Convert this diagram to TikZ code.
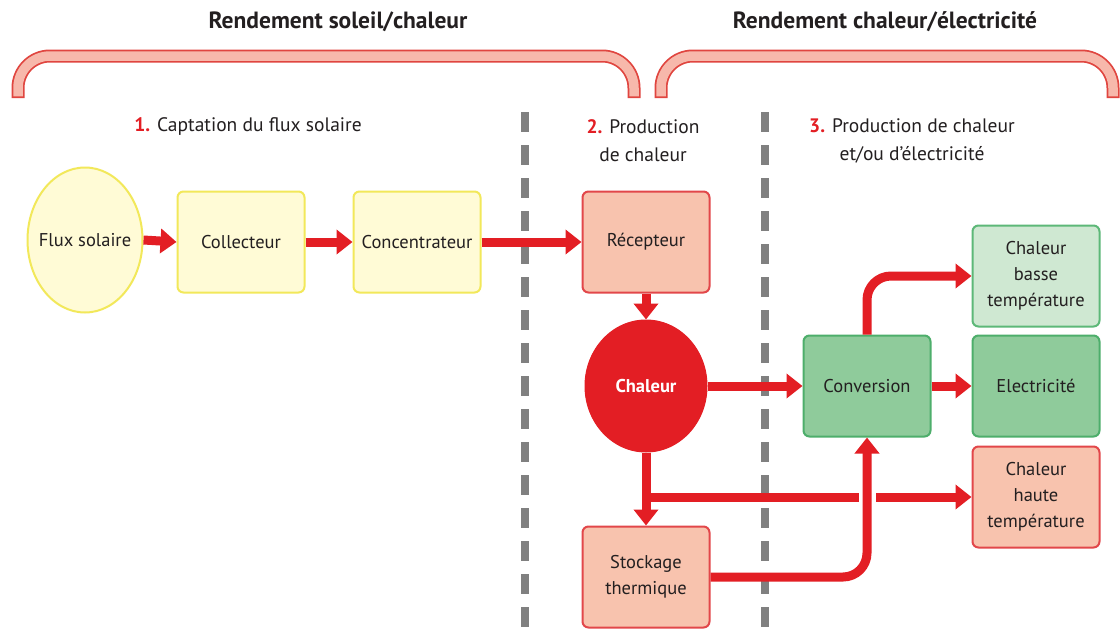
\documentclass[tikz,border=0pt]{standalone}
\usepackage{fontspec}
\setmainfont{PT Sans}
\usetikzlibrary{arrows.meta,shapes.geometric,calc}
\definecolor{arrred}{HTML}{E31E24}
\definecolor{bracered}{HTML}{E0453F}
\definecolor{bracepink}{HTML}{F7B8AB}
\definecolor{sepgray}{HTML}{808080}
\definecolor{txt}{HTML}{231F20}
\definecolor{numred}{HTML}{E31E24}
\definecolor{yfill}{HTML}{FFFBD6}
\definecolor{ydraw}{HTML}{F2E85A}
\definecolor{sfill}{HTML}{F8C3AE}
\definecolor{sdraw}{HTML}{E2474A}
\definecolor{gfill}{HTML}{8FCB9B}
\definecolor{gdraw}{HTML}{4DAE6B}
\definecolor{lgfill}{HTML}{CFE8D2}
\definecolor{lgdraw}{HTML}{5DB878}
\begin{document}
\begin{tikzpicture}[x=1pt,y=-1pt,
  every node/.style={text=txt,font=\fontsize{18.5}{26}\selectfont},
  box/.style={rectangle,rounded corners=6pt,line width=2pt,minimum width=127pt,minimum height=101pt,align=center,inner sep=2pt},
  ybox/.style={box,fill=yfill,draw=ydraw},
  sbox/.style={box,fill=sfill,draw=sdraw},
  gbox/.style={box,fill=gfill,draw=gdraw},
  lgbox/.style={box,fill=lgfill,draw=lgdraw},
  title/.style={font=\fontsize{23.5}{28}\selectfont\bfseries},
  sect/.style={font=\fontsize{19.5}{28}\selectfont,align=center},
  arr/.style={draw=arrred,line width=9pt,-{Triangle[width=24pt,length=16pt]}},
  sep/.style={draw=sepgray,line width=8pt,dash pattern=on 20pt off 13pt},
  brout/.style={draw=bracered,line width=13pt,rounded corners=32pt},
  brin/.style={draw=bracepink,line width=9.5pt,rounded corners=32pt}
]
\useasboundingbox (0,0) rectangle (1120,632);
\fill[white] (0,0) rectangle (1120,632);

% braces
\draw[brout] (18,98) -- (18,56) -- (634,56) -- (634,98);
\draw[brin] (18,96.3) -- (18,56) -- (634,56) -- (634,96.3);
\draw[brout] (661,98) -- (661,56) -- (1113,56) -- (1113,98);
\draw[brin] (661,96.3) -- (661,56) -- (1113,56) -- (1113,96.3);

% titles
\node[title] (t1) at (338,22) {Rendement soleil/chaleur};
\node[title] (t2) at (885,22) {Rendement chaleur/électricité};

% separators
\draw[sep] (525,112) -- (525,640);
\draw[sep] (765,112) -- (765,640);

% section labels
\node[sect] (s1) at (248,127) {\textcolor{numred}{\bfseries 1.} Captation du flux solaire};
\node[sect] (s2) at (643,141) {\textcolor{numred}{\bfseries 2.} Production\\de chaleur};
\node[sect] (s3) at (912,141) {\textcolor{numred}{\bfseries 3.} Production de chaleur\\et/ou d’électricité};

% nodes
\node[ellipse,fill=yfill,draw=ydraw,line width=2pt,minimum width=115pt,minimum height=145pt,inner xsep=-6pt,inner ysep=0pt] (flux) at (85,240) {Flux solaire};
\node[ybox] (col) at (241,242) {Collecteur};
\node[ybox] (con) at (417,242) {Concentrateur};
\node[sbox] (rec) at (646,242) {Récepteur};
\node[ellipse,fill=arrred,draw=arrred,line width=1pt,minimum width=122pt,minimum height=132pt,inner sep=0pt,text=white,font=\fontsize{18.5}{22}\selectfont\bfseries] (chal) at (646,386) {Chaleur};
\node[sbox] (sto) at (646,577) {Stockage\\thermique};
\node[gbox] (conv) at (867,386) {Conversion};
\node[lgbox] (bas) at (1036,276) {Chaleur\\basse\\température};
\node[gbox] (ele) at (1036,386) {Electricité};
\node[sbox] (hau) at (1036,497) {Chaleur\\haute\\température};

% connectors
\draw[arr] (flux.east) -- (col.west);
\draw[arr] (col.east) -- (con.west);
\draw[arr] (con.east) -- (rec.west);
\draw[arr] (rec.south) -- (chal.north);
\draw[arr] (chal.east) -- (conv.west);
\draw[arr] (conv.east) -- (ele.west);
\draw[arr,rounded corners=24pt] (conv.north) |- (bas.west);
\coordinate (br) at (646,497);
\draw[arr] (chal.south) -- (sto.north);
\draw[arr] (br) -- (hau.west);
\coordinate (cross) at (conv.south |- br);
\draw[white,line width=17pt] ([yshift=-7pt]cross) -- ([yshift=7pt]cross);
\draw[arr,rounded corners=24pt] (sto.east) -| (conv.south);
\end{tikzpicture}
\end{document}
